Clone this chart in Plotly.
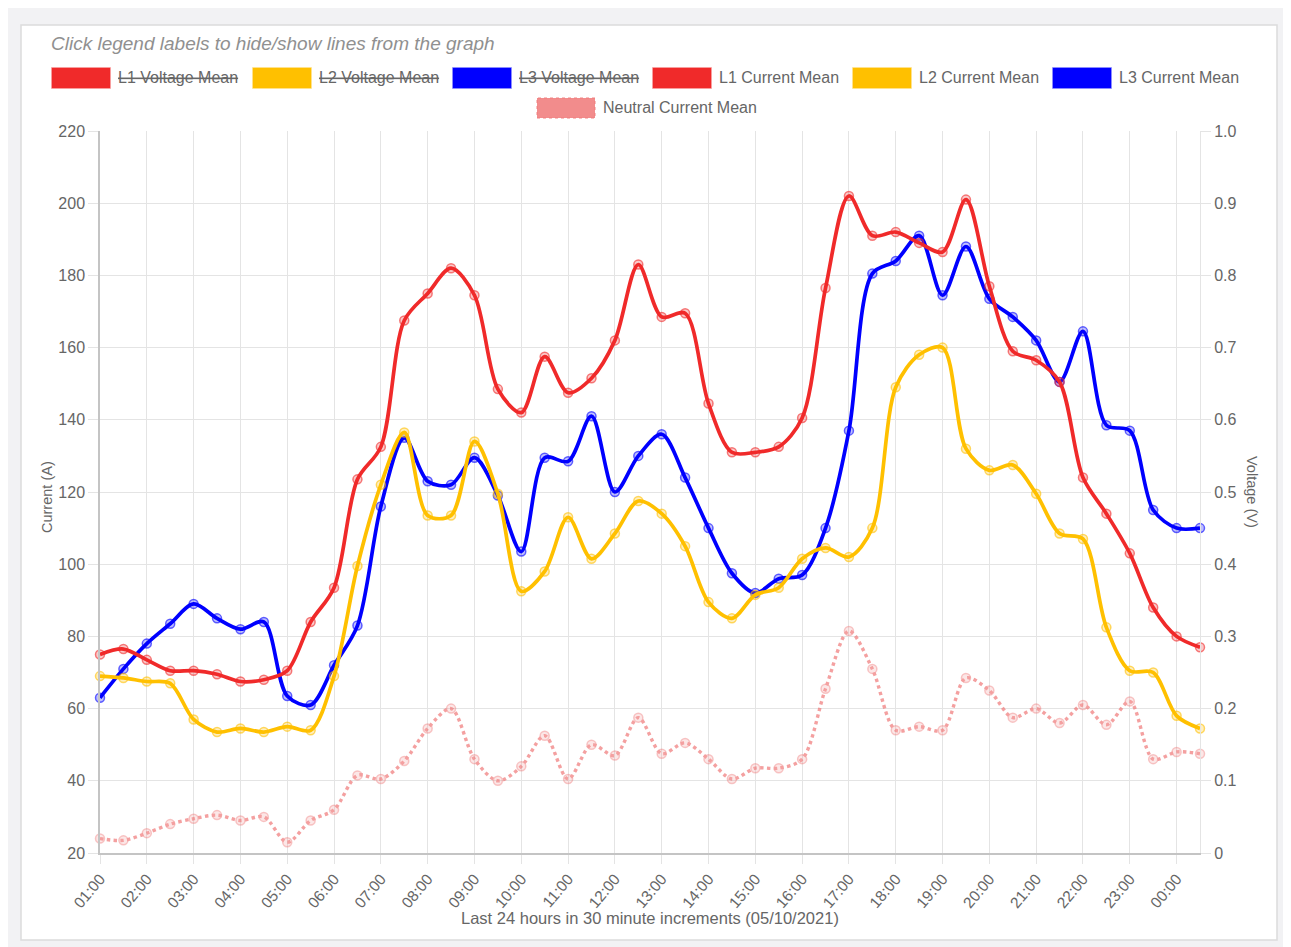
import plotly.graph_objects as go

# ---------------- data ----------------
times = ["01:00", "01:30", "02:00", "02:30", "03:00", "03:30", "04:00", "04:30",
         "05:00", "05:30", "06:00", "06:30", "07:00", "07:30", "08:00", "08:30",
         "09:00", "09:30", "10:00", "10:30", "11:00", "11:30", "12:00", "12:30",
         "13:00", "13:30", "14:00", "14:30", "15:00", "15:30", "16:00", "16:30",
         "17:00", "17:30", "18:00", "18:30", "19:00", "19:30", "20:00", "20:30",
         "21:00", "21:30", "22:00", "22:30", "23:00", "23:30", "00:00", "00:30"]

l1_current = [75, 76.5, 73.5, 70.5, 70.5, 69.5, 67.5, 68, 70.5, 84, 93.5, 123.5,
              132.5, 167.5, 175, 182, 174.5, 148.5, 142, 157.5, 147.5, 151.5, 162, 183,
              168.5, 169.5, 144.5, 131, 131, 132.5, 140.5, 176.5, 202, 191, 192, 189,
              186.5, 201, 177, 159, 156.5, 150.5, 124, 114, 103, 88, 80, 77]
l2_current = [69, 68.5, 67.5, 67, 57, 53.5, 54.5, 53.5, 55, 54, 69, 99.5,
              122, 136.5, 113.5, 113.5, 134, 119.5, 92.5, 98, 113, 101.5, 108.5, 117.5,
              114, 105, 89.5, 85, 91.5, 93.5, 101.5, 104.5, 102, 110, 149, 158,
              160, 132, 126, 127.5, 119.5, 108.5, 107, 82.5, 70.5, 70, 58, 54.5]
l3_current = [63, 71, 78, 83.5, 89, 85, 82, 84, 63.5, 61, 72, 83,
              116, 135, 123, 122, 129.5, 119, 103.5, 129.5, 128.5, 141, 120, 130,
              136, 124, 110, 97.5, 92, 96, 97, 110, 137, 180.5, 184, 191,
              174.5, 188, 173.5, 168.5, 162, 150.5, 164.5, 138.5, 137, 115, 110, 110]
neutral_current = [24, 23.5, 25.5, 28, 29.5, 30.5, 29, 30, 23, 29, 32, 41.5,
                   40.5, 45.5, 54.5, 60, 46, 40, 44, 52.5, 40.5, 50, 47, 57.5,
                   47.5, 50.5, 46, 40.5, 43.5, 43.5, 46, 65.5, 81.5, 71, 54, 55,
                   54, 68.5, 65, 57.5, 60, 56, 61, 55.5, 62, 46, 48, 47.5]
# voltage series are hidden in the reference (legend items struck through)
l1_voltage = []
l2_voltage = []
l3_voltage = []

hour_ticks = times[::2]
left_ticks = [20, 40, 60, 80, 100, 120, 140, 160, 180, 200, 220]
right_ticks = [0, 0.1, 0.2, 0.3, 0.4, 0.5, 0.6, 0.7, 0.8, 0.9, 1.0]
right_tick_text = ["0", "0.1", "0.2", "0.3", "0.4", "0.5", "0.6", "0.7", "0.8", "0.9", "1.0"]

legend_names = ["L1 Voltage Mean", "L2 Voltage Mean", "L3 Voltage Mean",
                "L1 Current Mean", "L2 Current Mean", "L3 Current Mean",
                "Neutral Current Mean"]

# ---------------- style ----------------
RED = "#f02a2a"
YEL = "#ffc000"
BLU = "#0000ff"
PINK = "#f07878"
FONT = "Liberation Sans, Arial, sans-serif"
TXT = "#666666"
GRID = "#e4e4e4"

OFF = 8                      # page body margin
W, H = 1291 - OFF, 947 - OFF
# plot area in screen pixels
L, R, T, B = 100, 1200, 131, 853


def fx(p):
    return (p - L) / (R - L)


def fy(p):
    return (B - p) / (B - T)


def rgba(hexc, a):
    h = hexc.lstrip("#")
    r, g, b = int(h[0:2], 16), int(h[2:4], 16), int(h[4:6], 16)
    return f"rgba({r},{g},{b},{a})"


fig = go.Figure()

# hidden voltage traces (right axis)
for name, vals, col in [("L1 Voltage Mean", l1_voltage, RED),
                        ("L2 Voltage Mean", l2_voltage, YEL),
                        ("L3 Voltage Mean", l3_voltage, BLU)]:
    fig.add_trace(go.Scatter(x=times[:len(vals)], y=vals, name=name, yaxis="y2",
                             visible="legendonly", showlegend=False,
                             line=dict(color=col)))

# current traces; first dataset drawn on top, so add in reverse
series = [("Neutral Current Mean", neutral_current, PINK, "dot", 3.4),
          ("L3 Current Mean", l3_current, BLU, "solid", 3.7),
          ("L2 Current Mean", l2_current, YEL, "solid", 3.7),
          ("L1 Current Mean", l1_current, RED, "solid", 3.7)]
for name, vals, col, dash, w in series:
    op = 0.7 if name.startswith("Neutral") else 1.0
    fig.add_trace(go.Scatter(
        x=times, y=vals, name=name, mode="lines+markers", showlegend=False,
        cliponaxis=False, opacity=op,
        line=dict(color=col, width=w, dash=dash, shape="spline", smoothing=0.9),
        marker=dict(symbol="circle", size=9, color=rgba(col, 0.25),
                    line=dict(color=rgba(col, 0.6), width=1.5)),
    ))

shapes = []
annotations = []

# card background
shapes.append(dict(type="rect", xref="paper", yref="paper", layer="below",
                   x0=fx(21), x1=fx(1277), y0=fy(940), y1=fy(25),
                   fillcolor="white", line=dict(color="#dcdcdc", width=1.5)))

# title
annotations.append(dict(text="Click legend labels to hide/show lines from the graph",
                        xref="paper", yref="paper", x=fx(49), y=fy(43),
                        xanchor="left", yanchor="middle", showarrow=False,
                        font=dict(family=FONT, size=19, color="#909090", style="italic")))

# custom legend (Chart.js style boxes)
legend_items = [
    (legend_names[0], RED, 52, 78, True, "solid"),
    (legend_names[1], YEL, 253, 78, True, "solid"),
    (legend_names[2], BLU, 453, 78, True, "solid"),
    (legend_names[3], RED, 653, 78, False, "solid"),
    (legend_names[4], YEL, 853, 78, False, "solid"),
    (legend_names[5], BLU, 1053, 78, False, "solid"),
    (legend_names[6], PINK, 537, 108, False, "dot"),
]
for name, col, bx, cy, hidden, dash in legend_items:
    fill = col if dash == "solid" else rgba(col, 0.85)
    shapes.append(dict(type="rect", xref="paper", yref="paper",
                       x0=fx(bx), x1=fx(bx + 58), y0=fy(cy + 10), y1=fy(cy - 10),
                       fillcolor=fill, line=dict(color=rgba(col, 0.6), width=1.5, dash=dash)))
    annotations.append(dict(text=name, xref="paper", yref="paper",
                            x=fx(bx + 64), y=fy(cy), xanchor="left", yanchor="middle",
                            showarrow=False,
                            font=dict(family=FONT, size=16, color=TXT,
                                      lineposition="through" if hidden else "none")))

# axis titles
annotations.append(dict(text="Current (A)", xref="paper", yref="paper",
                        x=fx(37), y=fy(497), textangle=-90, showarrow=False,
                        font=dict(family=FONT, size=14.5, color=TXT)))
annotations.append(dict(text="Voltage (V)", xref="paper", yref="paper",
                        x=fx(1262), y=fy(492), textangle=90, showarrow=False,
                        font=dict(family=FONT, size=14.5, color=TXT)))
annotations.append(dict(text="Last 24 hours in 30 minute increments (05/10/2021)",
                        xref="paper", yref="paper", x=fx(650), y=fy(918),
                        xanchor="center", yanchor="middle", showarrow=False,
                        font=dict(family=FONT, size=16.5, color=TXT)))

fig.update_layout(
    width=W, height=H,
    margin=dict(l=L - OFF, r=W - (R - OFF), t=T - OFF, b=H - (B - OFF), pad=0),
    paper_bgcolor="#f2f2f4", plot_bgcolor="white",
    font=dict(family=FONT, size=16, color=TXT),
    shapes=shapes, annotations=annotations,
    showlegend=False,
    xaxis=dict(type="category", categoryorder="array", categoryarray=times,
               range=[0, len(times) - 1], tickmode="array", tickvals=hour_ticks,
               ticktext=hour_ticks, tickangle=-50, showgrid=True, gridcolor=GRID,
               gridwidth=1, ticks="outside", ticklen=9, tickcolor=GRID,
               showline=True, linecolor="#c4c4c4", linewidth=1.5,
               tickfont=dict(size=15.5, color=TXT), zeroline=False),
    yaxis=dict(range=[20, 220], tickmode="array", tickvals=left_ticks,
               showgrid=True, gridcolor=GRID, gridwidth=1, ticks="outside",
               ticklen=10, tickcolor=GRID, showline=True, linecolor="#c4c4c4",
               linewidth=1.5, zeroline=False, tickfont=dict(size=16, color=TXT)),
    yaxis2=dict(range=[0, 1], overlaying="y", side="right", anchor="x",
                tickmode="array", tickvals=right_ticks, ticktext=right_tick_text,
                showgrid=False, ticks="outside", ticklen=10, tickcolor=GRID,
                showline=True, linecolor=GRID, linewidth=1, zeroline=False,
                tickfont=dict(size=16, color=TXT)),
)

fig.write_html("out.html")
